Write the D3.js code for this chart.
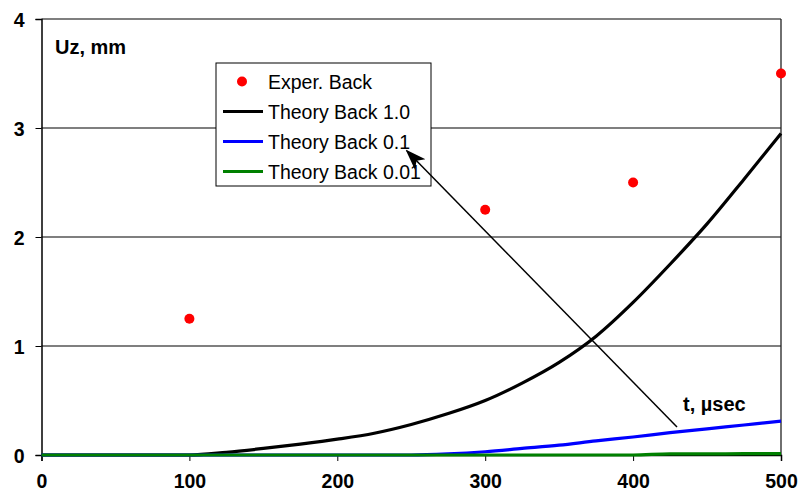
<!DOCTYPE html>
<html>
<head>
<meta charset="utf-8">
<script src="https://cdn.jsdelivr.net/npm/d3@7"></script>
<style>
  body { margin: 0; background: #fff; }
  svg { display: block; font-family: "Liberation Sans", Arial, sans-serif; }
  .tick text { font-weight: bold; font-size: 19.5px; fill: #000; }
</style>
</head>
<body>
<div id="chart"></div>
<script>
// time axis, microseconds
var tTheory = [0, 25, 50, 75, 100, 125, 150, 175, 200, 225, 250, 275, 300, 325, 350, 375, 400, 425, 450, 475, 500];
var back10  = [0, 0, 0, 0, 0, 0.025, 0.06, 0.10, 0.145, 0.20, 0.28, 0.38, 0.50, 0.66, 0.85, 1.09, 1.40, 1.75, 2.12, 2.53, 2.95];
var back01  = [0, 0, 0, 0, 0, 0, 0, 0, 0, 0, 0, 0.01, 0.03, 0.06, 0.09, 0.13, 0.165, 0.205, 0.24, 0.275, 0.31];
var back001 = [0, 0, 0, 0, 0, 0, 0, 0, 0, 0, 0, 0, 0, 0, 0, 0, 0, 0.01, 0.01, 0.012, 0.012];

var tExper = [100, 300, 400, 500];
var uzExper = [1.25, 2.25, 2.5, 3.5];

var xTicks = [0, 100, 200, 300, 400, 500];
var yTicks = [0, 1, 2, 3, 4];

var W = 800, H = 495;
var margin = {left: 41.5, right: 19, top: 19, bottom: 40};

var svg = d3.select("#chart").append("svg")
    .attr("width", W)
    .attr("height", H);

var x = d3.scaleLinear().domain([0, 500]).range([margin.left, W - margin.right]);
var y = d3.scaleLinear().domain([0, 4]).range([H - margin.bottom, margin.top]);

// grid lines
svg.append("g")
  .selectAll("line")
  .data(yTicks.filter(d => d > 0))
  .enter().append("line")
    .attr("x1", x(0)).attr("x2", x(500))
    .attr("y1", d => y(d)).attr("y2", d => y(d))
    .attr("stroke", "#555")
    .attr("stroke-width", 1.3);

// right border
svg.append("line")
  .attr("x1", x(500)).attr("x2", x(500))
  .attr("y1", y(4)).attr("y2", y(0))
  .attr("stroke", "#222")
  .attr("stroke-width", 1.3);

// axes
var xAxis = svg.append("g")
  .attr("transform", `translate(0,${y(0)})`)
  .call(d3.axisBottom(x).tickValues(xTicks).tickFormat(d3.format("d")).tickSize(6).tickPadding(13));
xAxis.select(".domain").attr("stroke-width", 1.5);

var yAxis = svg.append("g")
  .attr("transform", `translate(${x(0)},0)`)
  .call(d3.axisLeft(y).tickValues(yTicks).tickFormat(d3.format("d")).tickSize(6).tickPadding(11));
yAxis.select(".domain").attr("stroke-width", 1.5);
yAxis.selectAll(".tick text").attr("dy", "0.36em");

// curves
var line = d3.line()
  .x((d, i) => x(tTheory[i]))
  .y(d => y(d))
  .curve(d3.curveMonotoneX);

var series = [
  {name: "Theory Back 1.0", vals: back10, color: "#000000"},
  {name: "Theory Back 0.1", vals: back01, color: "#0000ff"},
  {name: "Theory Back 0.01", vals: back001, color: "#008000"}
];

series.forEach(function(s) {
  svg.append("path")
    .datum(s.vals)
    .attr("d", line)
    .attr("fill", "none")
    .attr("stroke", s.color)
    .attr("stroke-width", 3.2);
});

// experimental points
svg.append("g")
  .selectAll("circle")
  .data(uzExper)
  .enter().append("circle")
    .attr("cx", (d, i) => x(tExper[i]))
    .attr("cy", d => y(d))
    .attr("r", 5)
    .attr("fill", "#ff0000");

// axis titles
svg.append("text")
  .attr("x", 55).attr("y", 54)
  .attr("font-weight", "bold")
  .attr("font-size", 20)
  .text("Uz, mm");

svg.append("text")
  .attr("x", 683).attr("y", 411)
  .attr("font-weight", "bold")
  .attr("font-size", 20)
  .text("t, \u00b5sec");

// legend
var lg = svg.append("g").attr("transform", "translate(216,63)");
lg.append("rect")
  .attr("width", 215).attr("height", 123)
  .attr("fill", "#fff")
  .attr("stroke", "#000")
  .attr("stroke-width", 1);

var legendItems = [{name: "Exper. Back", dot: true, color: "#ff0000"}].concat(series);
legendItems.forEach(function(it, i) {
  var cy = 18.5 + i * 30;
  if (it.dot) {
    lg.append("circle").attr("cx", 26).attr("cy", cy).attr("r", 5).attr("fill", it.color);
  } else {
    lg.append("line")
      .attr("x1", 7).attr("x2", 47)
      .attr("y1", cy).attr("y2", cy)
      .attr("stroke", it.color)
      .attr("stroke-width", 3.2);
  }
  lg.append("text")
    .attr("x", 52).attr("y", cy + 7)
    .attr("font-size", 19.5)
    .text(it.name);
});

// arrow
svg.append("defs").append("marker")
  .attr("id", "arrow")
  .attr("viewBox", "0 0 10 10")
  .attr("refX", 9).attr("refY", 5)
  .attr("markerWidth", 21).attr("markerHeight", 21)
  .attr("markerUnits", "userSpaceOnUse")
  .attr("orient", "auto")
  .append("path")
    .attr("d", "M0,1.5 L10,5 L0,8.5 L2.5,5 Z")
    .attr("fill", "#000");

svg.append("line")
  .attr("x1", 677).attr("y1", 427)
  .attr("x2", 407).attr("y2", 151)
  .attr("stroke", "#000")
  .attr("stroke-width", 1.5)
  .attr("marker-end", "url(#arrow)");
</script>
</body>
</html>
